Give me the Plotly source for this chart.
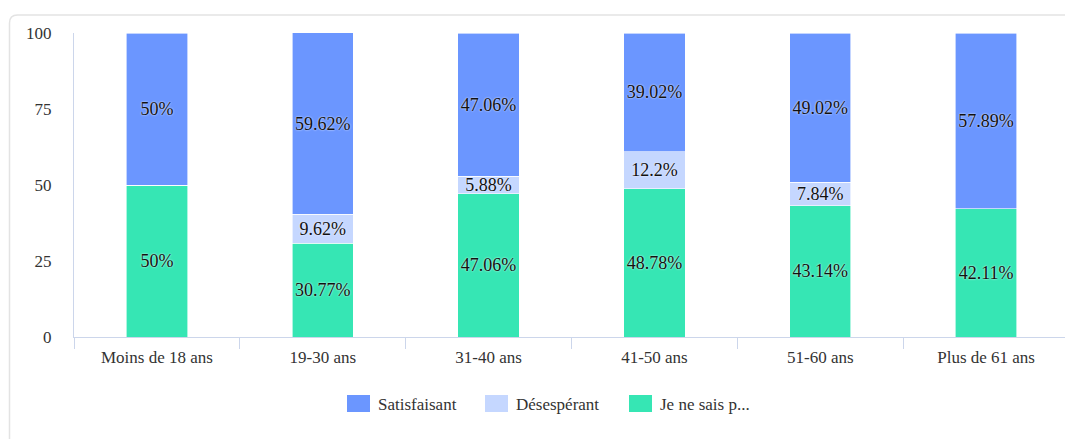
import plotly.graph_objects as go

categories = ["Moins de 18 ans", "19-30 ans", "31-40 ans", "41-50 ans", "51-60 ans", "Plus de 61 ans"]
satisfaisant = [50, 59.62, 47.06, 39.02, 49.02, 57.89]
desesperant = [0, 9.62, 5.88, 12.2, 7.84, 0]
je_ne_sais = [50, 30.77, 47.06, 48.78, 43.14, 42.11]
series_names = ["Satisfaisant", "Désespérant", "Je ne sais p..."]
y_ticks = [0, 25, 50, 75, 100]

colors = {"Satisfaisant": "#6b96ff", "Désespérant": "#c5d7ff", "Je ne sais p...": "#36e6b4"}

# page body has an 8px default margin; target screen positions are offset by it
OFF = 8
W, H = 1073, 439
ML, MR, MT, MB = 74 - OFF, 4 + OFF, 33 - OFF, 102 + OFF
PW, PH = W - ML - MR, H - MT - MB


def px_x(x):
    return (x - OFF - ML) / PW


def px_y(y):
    return (H - MB - (y - OFF)) / PH


def labels(vals):
    return [f"{v:g}%" if v else "" for v in vals]


fig = go.Figure()
serif = "Liberation Serif, Times New Roman, serif"
for name, vals in [("Je ne sais p...", je_ne_sais), ("Désespérant", desesperant), ("Satisfaisant", satisfaisant)]:
    fig.add_trace(go.Bar(
        x=categories, y=vals, name=name,
        marker=dict(color=colors[name], line=dict(color="white", width=0.6)),
        text=labels(vals), textposition="inside", insidetextanchor="middle",
        textangle=0, constraintext="none",
        textfont=dict(family=serif, size=18, color="#111", shadow="0px 0px 2px white"),
        hoverinfo="x+y+name", showlegend=False,
    ))

# card frame
x0, yt = px_x(9.5), px_y(15)
dx, dy = 8 / PW, 8 / PH
fig.add_shape(type="path", xref="paper", yref="paper",
              path=f"M {x0},{px_y(470)} L {x0},{yt - dy} Q {x0},{yt} {x0 + dx},{yt} L {px_x(1100)},{yt}",
              line=dict(color="#e3e3e3", width=1.5), layer="below")

# legend
leg = [("Satisfaisant", 347), ("Désespérant", 485), ("Je ne sais p...", 629)]
for name, sx in leg:
    fig.add_shape(type="rect", xref="paper", yref="paper",
                  x0=px_x(sx), x1=px_x(sx + 23), y0=px_y(412), y1=px_y(395),
                  fillcolor=colors[name], line=dict(width=0))
    fig.add_annotation(xref="paper", yref="paper", x=px_x(sx + 29), y=px_y(404),
                       text=name, showarrow=False, xanchor="left", yanchor="middle",
                       font=dict(family=serif, size=17, color="#333"))

fig.update_layout(
    width=W, height=H, barmode="stack", bargap=0.63,
    margin=dict(l=ML, r=MR, t=MT, b=MB),
    paper_bgcolor="white", plot_bgcolor="white",
    font=dict(family=serif, size=17, color="#333"),
    showlegend=False,
)
fig.update_xaxes(showline=True, linecolor="#ccd6eb", linewidth=1, ticks="outside",
                 tickson="boundaries", ticklen=11, tickcolor="#ccd6eb",
                 ticklabelstandoff=5,
                 showgrid=False, tickfont=dict(family=serif, size=17, color="#333"))
fig.update_yaxes(range=[0, 100], tickvals=y_ticks, showgrid=False, zeroline=False,
                 showline=True, linecolor="#ccd6eb", linewidth=1,
                 ticklabelstandoff=18, tickfont=dict(family=serif, size=17, color="#333"))

fig.write_html("out.html")
